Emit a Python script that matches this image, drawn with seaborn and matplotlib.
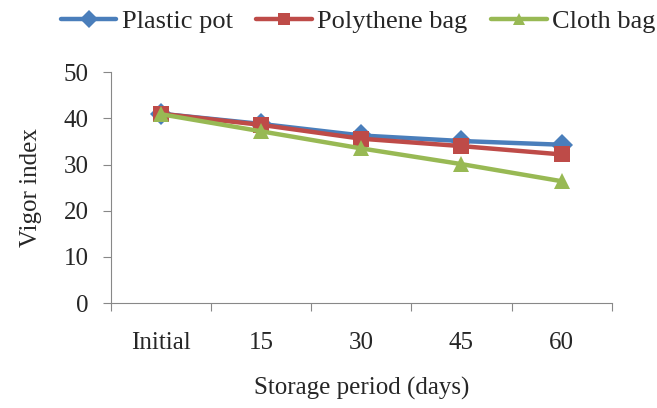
import matplotlib
matplotlib.use("Agg")
import matplotlib.pyplot as plt
import seaborn as sns
import numpy as np
import pandas as pd

# values
periods = ["Initial", "15", "30", "45", "60"]
plastic_pot = [41.0, 38.8, 36.3, 35.1, 34.3]
polythene_bag = [41.0, 38.6, 35.6, 34.0, 32.2]
cloth_bag = [40.9, 37.2, 33.5, 30.1, 26.4]

series_names = ["Plastic pot", "Polythene bag", "Cloth bag"]
colors = ["#4A7EBB", "#BE4B48", "#98B954"]
markers = ["D", "s", "^"]

df = pd.DataFrame({
    "period": periods * 3,
    "vigor": plastic_pot + polythene_bag + cloth_bag,
    "series": np.repeat(series_names, len(periods)),
})

sns.set_style("white")
plt.rcParams["font.family"] = ["Liberation Serif", "DejaVu Serif"]
fs = 18

fig = plt.figure(figsize=(6.57, 4.08), dpi=100)
ax = fig.add_axes([0.169, 0.257, 0.762, 0.566])

sns.lineplot(data=df, x="period", y="vigor", hue="series", style="series",
             palette=dict(zip(series_names, colors)),
             markers=dict(zip(series_names, markers)), dashes=False,
             linewidth=3.2, markersize=11, markeredgewidth=0, sort=False,
             legend=False, ax=ax)

ax.set_xlim(-0.5, len(periods) - 0.5)
ax.set_ylim(0, 50)
ax.set_yticks(range(0, 51, 10))
ax.set_xticks(range(len(periods)))
ax.set_xticklabels(periods)
ax.set_xticks(np.arange(-0.5, len(periods)), minor=True)
ax.tick_params(axis="x", which="major", length=0, pad=21, labelsize=fs)
ax.tick_params(axis="x", which="minor", length=6, width=0.8, color="#888888", direction="out")
ax.tick_params(axis="y", length=6, width=0.8, color="#888888", direction="out", labelsize=fs, pad=10)
ax.tick_params(bottom=True, left=True, which="both")

for side in ["top", "right"]:
    ax.spines[side].set_visible(False)
for side in ["left", "bottom"]:
    ax.spines[side].set_color("#888888")
    ax.spines[side].set_linewidth(0.8)

ax.set_xlabel("Storage period (days)", fontsize=fs, labelpad=16)
ax.set_ylabel("Vigor index", fontsize=fs, labelpad=16)

handles = [plt.Line2D([], [], color=c, marker=m, linewidth=3.2, markersize=9, markeredgewidth=0)
           for c, m in zip(colors, markers)]
fig.legend(handles, series_names, loc="center", bbox_to_anchor=(0.545, 0.948), ncol=3,
           frameon=False, fontsize=19, handlelength=2.1, handletextpad=0.2, columnspacing=0.9)

fig.savefig("out.png", dpi=100)
